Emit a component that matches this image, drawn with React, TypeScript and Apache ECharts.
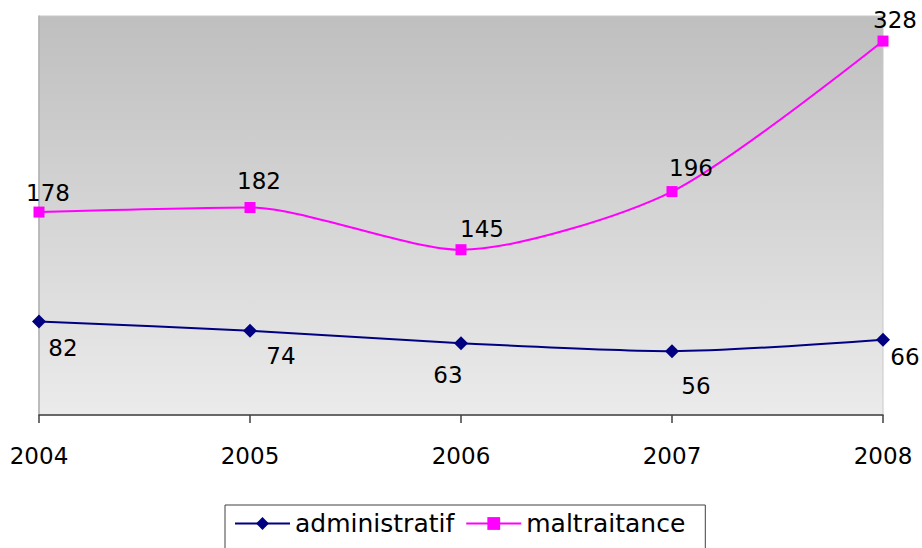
import React, { useEffect, useRef } from "react";
import * as echarts from "echarts";

const years = ["2004", "2005", "2006", "2007", "2008"];
const administratif = [82, 74, 63, 56, 66];
const maltraitance = [178, 182, 145, 196, 328];

// label nudges (dx, dy) relative to each marker
const adminLabelOffsets = [[24, 26], [31, 25], [-13, 32], [24, 35], [22, 17]];
const maltLabelOffsets = [[9, -19], [9, -27], [21, -21], [19, -24], [12, -21]];

const FONT = "DejaVu Sans";

export default function App() {
  const ref = useRef<HTMLDivElement>(null);
  useEffect(() => {
    if (!ref.current) return;
    const chart = echarts.init(ref.current, undefined, { renderer: "svg" });
    const mkData = (vals: number[], offs: number[][]) =>
      vals.map((v, i) => ({
        value: v,
        label: { offset: offs[i] },
      }));
    const labelBase = {
      show: true,
      position: "inside",
      align: "center",
      verticalAlign: "middle",
      color: "#000",
      fontFamily: FONT,
      fontSize: 23,
    };
    chart.setOption({
      animation: false,
      backgroundColor: "#ffffff",
      grid: {
        left: 39,
        right: 39,
        top: 16,
        bottom: 133,
        show: true,
        borderColor: "#c8c8c8",
        borderWidth: 1,
        backgroundColor: new echarts.graphic.LinearGradient(0, 0, 0, 1, [
          { offset: 0, color: "#bfbfbf" },
          { offset: 1, color: "#ebebeb" },
        ]),
      },
      xAxis: {
        type: "category",
        data: years,
        boundaryGap: false,
        axisLine: { show: true, lineStyle: { color: "#404040", width: 1.5 } },
        axisTick: { show: true, length: 8, alignWithLabel: true, lineStyle: { color: "#404040", width: 1.5 } },
        axisLabel: { color: "#000", fontFamily: FONT, fontSize: 23, margin: 29 },
        splitLine: { show: false },
      },
      yAxis: {
        type: "value",
        min: 0,
        max: 350,
        interval: 50,
        axisLine: { show: true, lineStyle: { color: "#b0b0b0", width: 1.5 } },
        axisTick: { show: false },
        axisLabel: { show: false },
        splitLine: { show: false },
      },
      legend: {
        left: 225,
        top: 505,
        orient: "horizontal",
        itemWidth: 55,
        itemHeight: 16,
        itemGap: 11,
        padding: [6, 20, 20, 9],
        borderColor: "#404040",
        borderWidth: 1,
        textStyle: { color: "#000", fontFamily: FONT, fontSize: 25 },
        data: ["administratif", "maltraitance"],
      },
      series: [
        {
          name: "administratif",
          type: "line",
          smooth: 0.25,
          data: mkData(administratif, adminLabelOffsets),
          symbol: "diamond",
          symbolSize: 14,
          lineStyle: { color: "#000080", width: 2 },
          itemStyle: { color: "#000080" },
          label: labelBase,
          z: 3,
        },
        {
          name: "maltraitance",
          type: "line",
          smooth: 0.25,
          data: mkData(maltraitance, maltLabelOffsets),
          symbol: "rect",
          symbolSize: 11,
          lineStyle: { color: "#ff00ff", width: 2 },
          itemStyle: { color: "#ff00ff" },
          label: labelBase,
          z: 3,
        },
      ],
    });
    return () => chart.dispose();
  }, []);
  return <div ref={ref} style={{ width: 922, height: 548, position: "absolute", left: 0, top: 0 }} />;
}
